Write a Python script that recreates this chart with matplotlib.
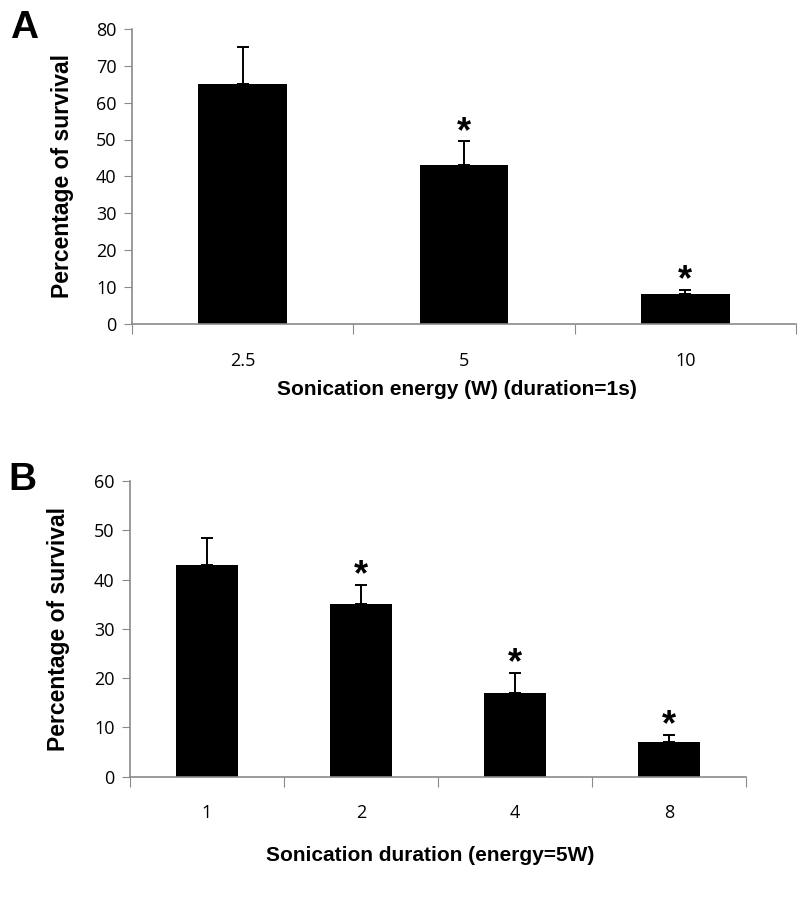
import numpy as np
import matplotlib
matplotlib.use("Agg")
import matplotlib.pyplot as plt

# panel A: sonication energy, duration 1s
energy_labels = ["2.5", "5", "10"]
energy_survival = [65, 43, 8]
energy_err = [10, 6.5, 1.2]
energy_sig = [False, True, True]

# panel B: sonication duration, energy 5W
duration_labels = ["1", "2", "4", "8"]
duration_survival = [43, 35, 17, 7]
duration_err = [5.5, 4, 4, 1.4]
duration_sig = [False, True, True, True]

plt.rcParams['font.family'] = ['Open Sans', 'DejaVu Sans']
axis_gray = '#8a8a8a'


def draw_panel(ax, labels, values, errs, sig, ymax, xlabel):
    x = np.arange(len(labels))
    ax.bar(x, values, width=0.4, color='black', zorder=2)
    ax.errorbar(x, values, yerr=[np.zeros(len(errs)), errs], fmt='none',
                ecolor='black', elinewidth=1.4, capsize=4.5, capthick=1.4, zorder=3)
    for xi, v, e, s in zip(x, values, errs, sig):
        if s:
            ax.annotate('*', (xi, v + e), xytext=(0, -6), textcoords='offset points',
                        ha='center', va='bottom', fontsize=26, fontweight='bold',
                        family='Liberation Sans')
    ax.set_xlim(-0.5, len(labels) - 0.5)
    ax.set_ylim(0, ymax)
    ax.set_yticks(np.arange(0, ymax + 1, 10))
    ax.set_xticks(np.arange(len(labels) + 1) - 0.5)
    ax.set_xticklabels([])
    ax.set_xticks(x, minor=True)
    ax.set_xticklabels(labels, minor=True)
    ax.tick_params(axis='x', which='major', length=7, color=axis_gray, direction='out')
    ax.tick_params(axis='x', which='minor', length=0, pad=20, labelsize=13)
    ax.tick_params(axis='y', length=6, color=axis_gray, pad=5, labelsize=13)
    for side in ['top', 'right']:
        ax.spines[side].set_visible(False)
    for side in ['left', 'bottom']:
        ax.spines[side].set_color(axis_gray)
        ax.spines[side].set_linewidth(1.2)
    ax.set_ylabel('Percentage of survival', fontsize=16.5, fontweight='bold',
                  family='Liberation Sans')
    ax.set_xlabel(xlabel, fontsize=15, fontweight='bold', family='Liberation Sans')


fig = plt.figure(figsize=(8, 9), dpi=100)
ax_a = fig.add_axes([0.165, 0.64, 0.83, 0.328])
ax_b = fig.add_axes([0.1625, 0.137, 0.77, 0.3285])

draw_panel(ax_a, energy_labels, energy_survival, energy_err, energy_sig, 80,
           'Sonication energy (W) (duration=1s)')
draw_panel(ax_b, duration_labels, duration_survival, duration_err, duration_sig, 60,
           'Sonication duration (energy=5W)')

ax_a.yaxis.set_label_coords(-0.088, 0.5)
ax_b.yaxis.set_label_coords(-0.097, 0.5)
ax_a.xaxis.set_label_coords(0.49, -0.19)
ax_b.xaxis.set_label_coords(0.487, -0.235)

fig.text(0.012, 0.958, 'A', fontsize=28, fontweight='bold', family='Liberation Sans')
fig.text(0.010, 0.455, 'B', fontsize=28, fontweight='bold', family='Liberation Sans')

fig.savefig('out.png', dpi=100, facecolor='white')
